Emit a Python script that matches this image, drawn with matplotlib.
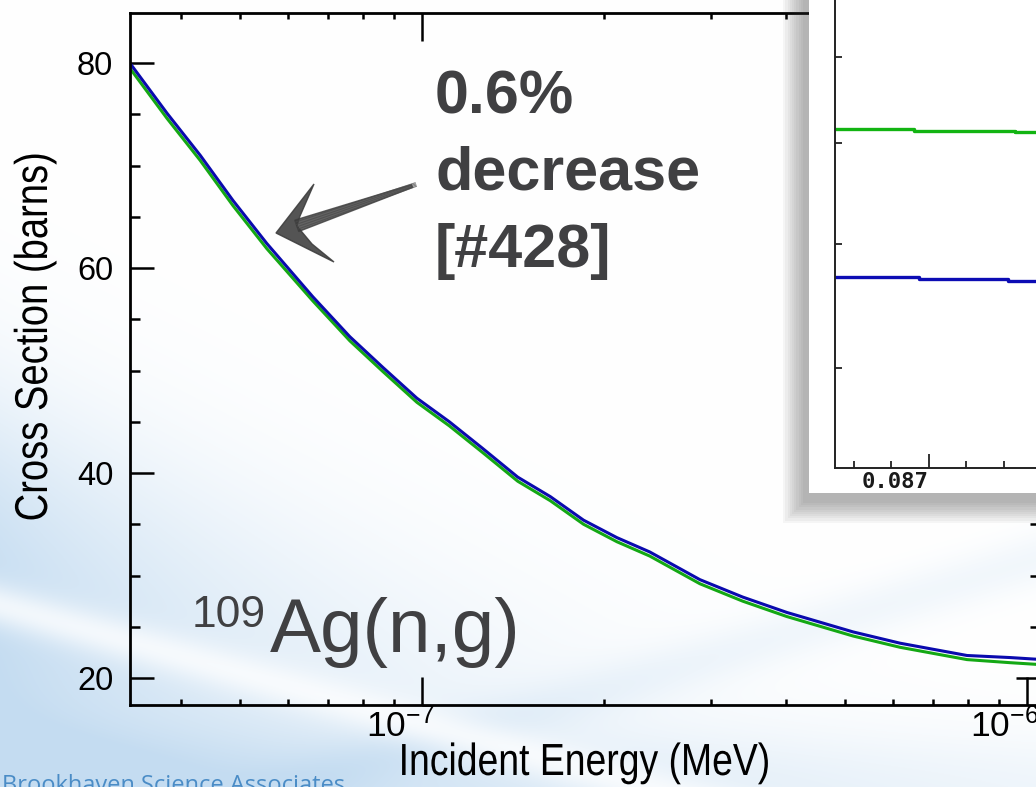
import numpy as np
import matplotlib
matplotlib.use("Agg")
import matplotlib.pyplot as plt
from matplotlib.patches import Rectangle, Polygon, PathPatch
from matplotlib.textpath import TextPath
from matplotlib.font_manager import FontProperties
from matplotlib.transforms import Affine2D, ScaledTranslation
from matplotlib.ticker import FixedLocator, LogLocator, MultipleLocator, NullFormatter, NullLocator

W, H = 1036, 787

# 109Ag(n,g) capture cross section
energy = [3.29e-8, 3.79e-8, 4.30e-8, 4.87e-8, 5.54e-8, 6.60e-8, 7.60e-8, 8.62e-8,
          9.81e-8, 1.11e-7, 1.26e-7, 1.44e-7, 1.63e-7, 1.85e-7, 2.10e-7, 2.38e-7,
          2.88e-7, 3.39e-7, 4.01e-7, 5.16e-7, 6.17e-7, 7.96e-7, 9.37e-7, 1.06e-6]
xs_blue = [80.0, 75.1, 71.0, 66.6, 62.4, 57.2, 53.3, 50.3, 47.3, 45.0, 42.4, 39.6,
           37.7, 35.4, 33.7, 32.3, 29.6, 27.9, 26.4, 24.5, 23.4, 22.2, 22.0, 21.8]
xs_green = [79.5, 74.6, 70.5, 66.1, 61.9, 56.8, 52.9, 49.9, 46.9, 44.6, 42.0, 39.2,
            37.3, 35.0, 33.3, 31.9, 29.2, 27.5, 26.0, 24.1, 23.0, 21.8, 21.5, 21.3]

# zoomed inset (steps)
inset_x_green = [0.0865, 0.08692, 0.08746, 0.0880]
inset_green = [0.615, 0.6127, 0.6116, 0.6116]
inset_x_blue = [0.0865, 0.08695, 0.08742, 0.0880]
inset_blue = [0.4712, 0.4696, 0.4680, 0.4680]

BLUE = "#0a0aae"
GREEN = "#14a814"
GREY_TXT = "#404042"

plt.rcParams["font.family"] = ["Liberation Sans", "DejaVu Sans"]
plt.rcParams["mathtext.default"] = "regular"
plt.rcParams["axes.unicode_minus"] = False


def fx(x):
    return x / W


def fy(y):
    return 1 - y / H


fig = plt.figure(figsize=(W / 100, H / 100), dpi=100)


def squeezed_text(s, x, y, size, rot=0, squeeze=0.83):
    # condensed label (the slide squeezed the plot horizontally); x, y = centre of baseline in px
    tp = TextPath((0, 0), s, size=size, prop=FontProperties(family="Liberation Sans"))
    bb = tp.get_extents()
    tr = (Affine2D().translate(-(bb.x0 + bb.x1) / 2, 0).scale(squeeze, 1)
          .rotate_deg(rot).translate(x, H - y))
    fig.add_artist(PathPatch(tp, transform=tr, facecolor="black", edgecolor="none", zorder=4))


# slide background: light blue swooshes bottom-left
yy, xx = np.mgrid[0:H, 0:W].astype(float)
sig = lambda v: 1 / (1 + np.exp(-v))
tint = sig((yy - (440 + 0.35 * xx)) / 60) * np.exp(-xx / 420)
tint += 0.55 * sig((yy - 745) / 18) * np.exp(-xx / 1400)
tint += 0.22 * np.exp(-((yy - (690 - 0.3 * (xx - 600))) / 28) ** 2) * sig((xx - 250) / 60)
tint *= 1 - 0.75 * np.exp(-((yy - (605 + 0.28 * xx)) / 22) ** 2)
tint = np.clip(tint, 0, 1)[..., None]
c_blue = np.array([196, 220, 241]) / 255
bg = (1 - tint) * 1.0 + tint * c_blue
ax_bg = fig.add_axes([0, 0, 1, 1], zorder=-5)
ax_bg.imshow(bg, aspect="auto", extent=[0, W, H, 0])
ax_bg.axis("off")

# main axes (right edge sits just past the figure edge)
ax = fig.add_axes([fx(130), fy(705), (1040 - 130) / W, (705 - 13) / H])
ax.patch.set_alpha(0)
ax.set_xscale("log")
ax.plot(energy, xs_green, color=GREEN, lw=2.2)
ax.plot(energy, xs_blue, color=BLUE, lw=2.2)
ax.set_xlim(3.292e-8, 1.051e-6)
ax.set_ylim(17.37, 84.88)
ax.set_xticks([1e-7, 1e-6])
ax.xaxis.set_minor_locator(LogLocator(base=10, subs=np.arange(2, 10)))
ax.xaxis.set_minor_formatter(NullFormatter())
ax.yaxis.set_major_locator(FixedLocator([20, 40, 60, 80]))
ax.yaxis.set_minor_locator(MultipleLocator(5))
for s in ax.spines.values():
    s.set_linewidth(2.0)
ax.tick_params(which="both", direction="in", top=True, right=True, width=1.8)
ax.tick_params(axis="y", which="major", length=17, pad=12, labelsize=23.5)
ax.tick_params(axis="y", which="minor", length=7)
ax.tick_params(axis="x", which="major", length=20, pad=2, labelsize=25.5)
ax.tick_params(axis="x", which="minor", length=4.5)
shift = ScaledTranslation(-22 / 100, 0, fig.dpi_scale_trans)
for lab in ax.xaxis.get_majorticklabels():
    lab.set_transform(lab.get_transform() + shift)

squeezed_text("Cross Section (barns)", 47, 337, 46, rot=90)
squeezed_text("Incident Energy (MeV)", 585, 775, 45)

# inset with drop shadow
for k in range(10):
    m = 2.2 * k
    fig.add_artist(Rectangle((fx(803 - m), fy(503 + m)), (260 + 2 * m) / W, (530 + 2 * m) / H,
                             transform=fig.transFigure, facecolor="#3a3a3a",
                             edgecolor="none", alpha=0.045, zorder=1))
fig.add_artist(Rectangle((fx(809), fy(493)), 260 / W, 530 / H, transform=fig.transFigure,
                         facecolor="white", edgecolor="none", zorder=2))

ax_in = fig.add_axes([fx(835), fy(468), (1100 - 835) / W, (468 + 40) / H], zorder=3)
ax_in.patch.set_alpha(0)
ax_in.set_yscale("log")
ax_in.step(inset_x_green, inset_green, where="post", color="#12b412", lw=2.4)
ax_in.step(inset_x_blue, inset_blue, where="post", color="#0c0cb4", lw=2.4)
ax_in.set_xlim(0.0865, 0.087912)
ax_in.set_ylim(0.334, 0.834)
ax_in.set_xticks([0.087])
ax_in.set_xticklabels(["0.087"], ha="right", family="DejaVu Sans Mono",
                      fontweight="bold", fontsize=16, color="#1a1a1a")
ax_in.xaxis.set_minor_locator(MultipleLocator(0.0002))
ax_in.yaxis.set_major_locator(FixedLocator([0.4, 0.5, 0.6, 0.7]))
ax_in.yaxis.set_minor_locator(NullLocator())
ax_in.set_yticklabels([])
for side in ("top", "right"):
    ax_in.spines[side].set_visible(False)
for side in ("left", "bottom"):
    ax_in.spines[side].set_linewidth(1.4)
    ax_in.spines[side].set_color("#222222")
ax_in.tick_params(which="both", direction="in", width=1.3, color="#222222", pad=3)
ax_in.tick_params(axis="x", which="major", length=10)
ax_in.tick_params(axis="x", which="minor", length=5)
ax_in.tick_params(axis="y", which="major", length=5)

# annotation text
for line, yb in zip(["0.6%", "decrease", "[#428]"], [113, 190, 267]):
    fig.text(fx(435), fy(yb), line, family="Liberation Sans", fontweight="bold",
             fontsize=44, color=GREY_TXT, va="baseline", ha="left", zorder=4)
fig.text(fx(192), fy(627), "109", family="Liberation Sans", fontsize=32,
         color=GREY_TXT, va="baseline", ha="left", zorder=4)
fig.text(fx(270), fy(652), "Ag(n,g)", family="Liberation Sans", fontsize=55,
         color=GREY_TXT, va="baseline", ha="left", zorder=4)
fig.text(fx(2), fy(774), "Brookhaven Science Associates", family="Open Sans",
         fontsize=17, color="#4a8cc6", va="top", ha="left", zorder=4)

# hand-drawn looking arrow pointing at the curves
tail = np.array([412.0, 186.0])
tip = np.array([276.0, 233.0])
u = (tip - tail) / np.hypot(*(tip - tail))
n = np.array([-u[1], u[0]])
neck = tip - u * 22
shaft = [tail + n * 1.5, neck + n * 6, neck - n * 6, tail - n * 1.5]
head = [tip, (314, 184), (300, 216), neck, (312, 244), (334, 262)]
for pts, a in ((shaft, 0.8), (head, 0.88)):
    fig.add_artist(Polygon([(fx(p[0]), fy(p[1])) for p in pts], closed=True,
                           transform=fig.transFigure, facecolor="#3c3c3c",
                           edgecolor="#3c3c3c", lw=1.0, alpha=a, zorder=4))
for off in (-3.5, -1, 1.5, 4):
    a0 = tail + n * off * 0.5 - u * 4
    a1 = neck + n * off
    fig.add_artist(plt.Line2D([fx(a0[0]), fx(a1[0])], [fy(a0[1]), fy(a1[1])],
                              transform=fig.transFigure, color="#4a4a4a", lw=0.8,
                              alpha=0.7, zorder=4))

fig.savefig("out.png", dpi=100)
